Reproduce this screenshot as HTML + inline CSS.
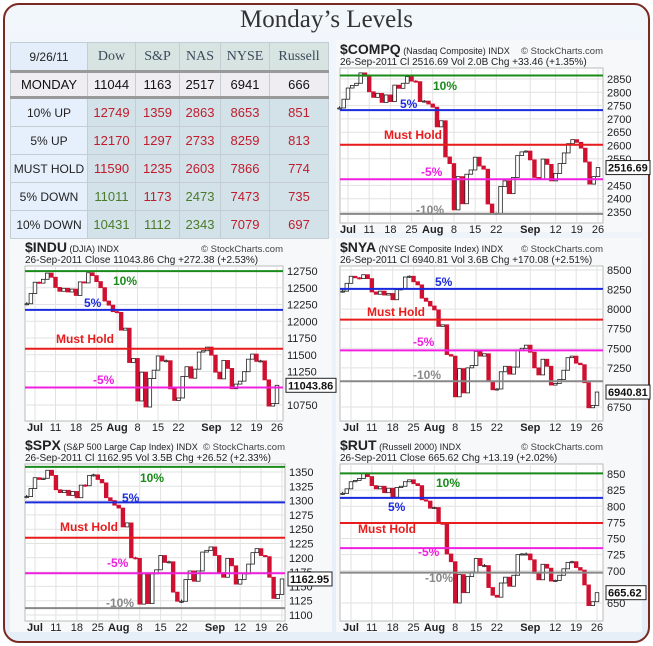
<!DOCTYPE html>
<html><head><meta charset="utf-8">
<style>
body{margin:0;width:653px;height:646px;overflow:hidden;background:#fff;font-family:"Liberation Sans",sans-serif}
#frame{position:absolute;left:3px;top:3px;width:643px;height:636px;border:2px solid #7a2a22;border-radius:16px;background:linear-gradient(#f2f7fc,#e6eef8)}
#title{position:absolute;left:0;top:6px;width:653px;text-align:center;font-family:"Liberation Serif",serif;font-size:25px;color:#333}
table{position:absolute;left:10px;top:42px;border-collapse:collapse;font-size:13px;z-index:2}
td{border:1px solid #c4ccd4;text-align:center;padding:0;height:27px}
.h td{background:#d8e4e2;font-family:"Liberation Serif",serif;font-size:14px;color:#3a4a5a;height:27px}
.h td.l{background:#e4eefa;font-family:"Liberation Sans";font-size:12px;color:#222}
.m td{background:#efedf2;border-top:3px solid #999;border-bottom:3px solid #999;color:#111;height:23px}
td.l{background:#e6f0fc;color:#222;font-size:12px}
.r td{background:#d2e2e8}
.r td.l{background:#e6f0fc}
.red{color:#c01c2c}.grn{color:#4a7a2a}
svg{position:absolute;left:0;top:0;z-index:1}
</style></head><body>
<div id="frame"></div>
<div id="title">Monday’s Levels</div>
<table>
<tr class="h"><td class="l" style="width:76px">9/26/11</td><td style="width:47px">Dow</td><td style="width:43px">S&amp;P</td><td style="width:40px">NAS</td><td style="width:48px">NYSE</td><td style="width:58px">Russell</td></tr>
<tr class="m"><td>MONDAY</td><td>11044</td><td>1163</td><td>2517</td><td>6941</td><td>666</td></tr>
<tr class="r"><td class="l">10% UP</td><td class="red">12749</td><td class="red">1359</td><td class="red">2863</td><td class="red">8653</td><td class="red">851</td></tr>
<tr class="r"><td class="l">5% UP</td><td class="red">12170</td><td class="red">1297</td><td class="red">2733</td><td class="red">8259</td><td class="red">813</td></tr>
<tr class="r"><td class="l">MUST HOLD</td><td class="red">11590</td><td class="red">1235</td><td class="red">2603</td><td class="red">7866</td><td class="red">774</td></tr>
<tr class="r"><td class="l">5% DOWN</td><td class="grn">11011</td><td class="red">1173</td><td class="grn">2473</td><td class="red">7473</td><td class="red">735</td></tr>
<tr class="r"><td class="l">10% DOWN</td><td class="grn">10431</td><td class="grn">1112</td><td class="grn">2343</td><td class="red">7079</td><td class="red">697</td></tr>
</table>
<svg id="s" width="653" height="646"></svg>
<script>
const xLabels=["Jul","11","18","25","Aug","8","15","22","Sep","12","19","26"];
const xLabelIdx=[2,7,12,17,22,27,32,37,45,51,56,61];
const indu=[12261,12414,12582,12569,12626,12719,12657,12505,12447,12492,12437,12480,12385,12587,12572,12724,12681,12592,12501,12302,12240,12143,12132,11867,11897,11384,11445,10810,11240,10720,11144,11270,11482,11406,11411,10991,10818,10855,11177,11321,11150,11285,11540,11560,11614,11494,11240,11140,11415,11296,10993,11062,11106,11247,11434,11510,11401,11408,11125,10734,10772,11044];
const spx=[1307,1321,1340,1337,1339,1353,1344,1319,1314,1318,1309,1316,1305,1327,1326,1344,1345,1337,1331,1305,1300,1292,1287,1254,1261,1200,1199,1119,1172,1120,1172,1179,1204,1192,1193,1140,1124,1124,1162,1177,1159,1177,1210,1213,1219,1204,1174,1166,1199,1186,1154,1162,1172,1189,1209,1216,1204,1202,1166,1129,1136,1163];
const compq=[2741,2774,2816,2826,2834,2873,2860,2802,2781,2796,2762,2790,2765,2827,2815,2834,2859,2842,2840,2765,2767,2756,2744,2670,2693,2557,2532,2358,2483,2381,2492,2508,2556,2523,2511,2380,2342,2345,2446,2467,2419,2480,2562,2576,2579,2546,2480,2474,2549,2529,2467,2495,2532,2572,2607,2622,2612,2590,2538,2455,2483,2517];
const nya=[8230,8330,8420,8400,8390,8440,8390,8220,8190,8230,8180,8200,8120,8250,8260,8410,8420,8350,8310,8140,8100,8040,7990,7780,7800,7420,7400,6880,7240,6930,7250,7280,7460,7400,7430,7080,6970,6980,7200,7270,7170,7260,7480,7500,7540,7450,7250,7160,7360,7270,7030,7050,7100,7220,7380,7400,7310,7290,7060,6740,6770,6941];
const rut=[820,827,838,840,843,851,846,832,827,831,821,828,814,829,831,838,841,835,832,810,808,797,798,774,772,726,714,650,694,666,691,698,719,708,708,674,662,659,681,690,676,693,725,726,726,717,696,686,710,704,684,685,693,703,713,714,705,701,678,646,652,666];
const levelNames=["10%","5%","Must Hold","-5%","-10%"];
const levelColors=["#1a8a1a","#1a2adc","#e81c1c","#f020e0","#888"];
const induLevels=[12749,12170,11590,11011,10431];
const spxLevels=[1359,1297,1235,1173,1112];
const compqLevels=[2863,2733,2603,2473,2343];
const nyaLevels=[8653,8259,7866,7473,7079];
const rutLevels=[851,813,774,735,697];
const induTicks=[12750,12500,12250,12000,11750,11500,11250,10750];
const spxTicks=[1350,1325,1300,1275,1250,1225,1200,1175,1150,1125,1100];
const compqTicks=[2850,2800,2750,2700,2650,2600,2550,2450,2400,2350];
const nyaTicks=[8500,8250,8000,7750,7500,7250,6750];
const rutTicks=[850,825,800,775,750,725,700,650];

const S=document.getElementById('s');
const NS='http://www.w3.org/2000/svg';
function mk(tag,at,txt){const e=document.createElementNS(NS,tag);for(const k in at)e.setAttribute(k,at[k]);if(txt!==undefined)e.textContent=txt;S.appendChild(e);return e;}

function chart(c){
  const {px,py,pw,ph,v1,y1,v2,y2,x0,x1,data,levels,ticks,lbl}=c;
  const ys=v=>y1+(v-v1)*(y2-y1)/(v2-v1);
  const xs=i=>x0+(i-2)*(x1-x0)/59;
  const h1=mk('text',{x:px,y:py-14,'font-size':9,fill:'#222'});
  h1.innerHTML='<tspan font-size="14" font-weight="bold">'+c.sym+'</tspan> '+c.desc;
  
  const wm=mk('text',{x:px+pw,y:py-14,'font-size':9.5,fill:'#444','text-anchor':'end'},'© StockCharts.com');
  
  const h2=mk('text',{x:px,y:py-3,'font-size':10,fill:'#222'},c.line2);
  
  const pa=mk('rect',{x:px,y:py,width:pw,height:ph,fill:'#fff',stroke:'#bbb'});
  
  xLabelIdx.forEach((d,k)=>{
    const g=mk('line',{x1:xs(d),x2:xs(d),y1:py,y2:py+ph,stroke:'#e2e2e2'});
    
    const t=mk('text',{x:xs(d),y:py+ph+10,'font-size':11,'font-weight':(k==0||k==4||k==8)?'bold':'normal','text-anchor':'middle',fill:'#222'},xLabels[k]);
    
  });
  ticks.forEach(v=>{
    const y=ys(v);
    const g=mk('line',{x1:px,x2:px+pw,y1:y,y2:y,stroke:'#e2e2e2'});
    
    const t=mk('text',{x:px+pw+4,y:y+4,'font-size':11,fill:'#222'},v);
    
  });
  const wk=(v2-v1)*0.012;
  data.forEach((cl,i)=>{
    const o=i?data[i-1]:cl, x=xs(i), down=cl<o;
    const hi=Math.max(o,cl)+wk, lo=Math.min(o,cl)-wk;
    const w=mk('line',{x1:x,x2:x,y1:ys(hi),y2:ys(lo),stroke:down?'#d01030':'#222'});
    
    const top=ys(Math.max(o,cl)),bh=Math.max(1,ys(Math.min(o,cl))-top);
    const b=mk('rect',{x:x-1.8,y:top,width:3.6,height:bh,fill:down?'#d01030':'#fff',stroke:down?'#d01030':'#222','stroke-width':0.8});
    
  });
  levels.forEach((v,k)=>{
    const y=ys(v); if(y<py-1||y>py+ph+1)return;
    const l=mk('line',{x1:px,x2:px+pw,y1:y,y2:y,stroke:levelColors[k],'stroke-width':2});
    
  });
  lbl.forEach((q,k)=>{ if(!q)return;
    const t=mk('text',{x:q[0],y:q[1],'font-size':12,'font-weight':'bold',fill:levelColors[k]},levelNames[k]);
    
  });
  const last=data[data.length-1], ly=ys(last);
  const bx=mk('rect',{x:px+pw+3,y:ly-7,width:c.boxW,height:14,fill:'#fff',stroke:'#222'});
  
  const bt=mk('text',{x:px+pw+5,y:ly+4,'font-size':11,'font-weight':'bold',fill:'#111'},c.lastTxt);
  
}
[[336,40,306,192],[10,238,322,198],[336,238,306,198],[10,436,322,196],[336,436,306,196]].forEach(r=>{
  const p=mk('rect',{x:r[0],y:r[1],width:r[2],height:r[3],fill:'#f6f8fa'});
  
  
});
chart({name:'compq',sym:'$COMPQ',desc:'(Nasdaq Composite) INDX',line2:'26-Sep-2011    Cl 2516.69  Vol 2.0B  Chg +33.46 (+1.35%)',px:340,py:68,pw:263,ph:155,v1:2850,y1:79,v2:2350,y2:212,x0:348,x1:598,data:compq,levels:compqLevels,ticks:compqTicks,lbl:[[433,90],[400,108],[384,139],[421,176],[416,214]],lastTxt:'2516.69',boxW:44});
chart({name:'indu',sym:'$INDU',desc:'(DJIA) INDX',line2:'26-Sep-2011       Close 11043.86  Chg +272.38 (+2.53%)',px:25,py:266,pw:258,ph:155,v1:12750,y1:271,v2:10750,y2:405,x0:35,x1:277,data:indu,levels:induLevels,ticks:induTicks,lbl:[[113,285],[84,307],[56,343],[93,384],null],lastTxt:'11043.86',boxW:50});
chart({name:'nya',sym:'$NYA',desc:'(NYSE Composite Index) INDX',line2:'26-Sep-2011    Cl 6940.81  Vol 3.6B  Chg +170.08 (+2.51%)',px:340,py:266,pw:263,ph:155,v1:8500,y1:270,v2:6750,y2:407,x0:351,x1:597,data:nya,levels:nyaLevels,ticks:nyaTicks,lbl:[null,[435,286],[367,316],[413,346],[413,379]],lastTxt:'6940.81',boxW:44});
chart({name:'spx',sym:'$SPX',desc:'(S&P 500 Large Cap Index) INDX',line2:'26-Sep-2011    Cl 1162.95  Vol 3.5B  Chg +26.52 (+2.33%)',px:25,py:464,pw:260,ph:157,v1:1350,y1:472,v2:1100,y2:615,x0:35,x1:282,data:spx,levels:spxLevels,ticks:spxTicks,lbl:[[140,482],[122,502],[60,531],[107,567],[106,607]],lastTxt:'1162.95',boxW:44});
chart({name:'rut',sym:'$RUT',desc:'(Russell 2000) INDX',line2:'26-Sep-2011           Close 665.62  Chg +13.19 (+2.02%)',px:340,py:464,pw:263,ph:157,v1:850,y1:474,v2:650,y2:603,x0:351,x1:597,data:rut,levels:rutLevels,ticks:rutTicks,lbl:[[436,487],[388,511],[358,533],[418,556],[425,582]],lastTxt:'665.62',boxW:40});
</script>
</body></html>
